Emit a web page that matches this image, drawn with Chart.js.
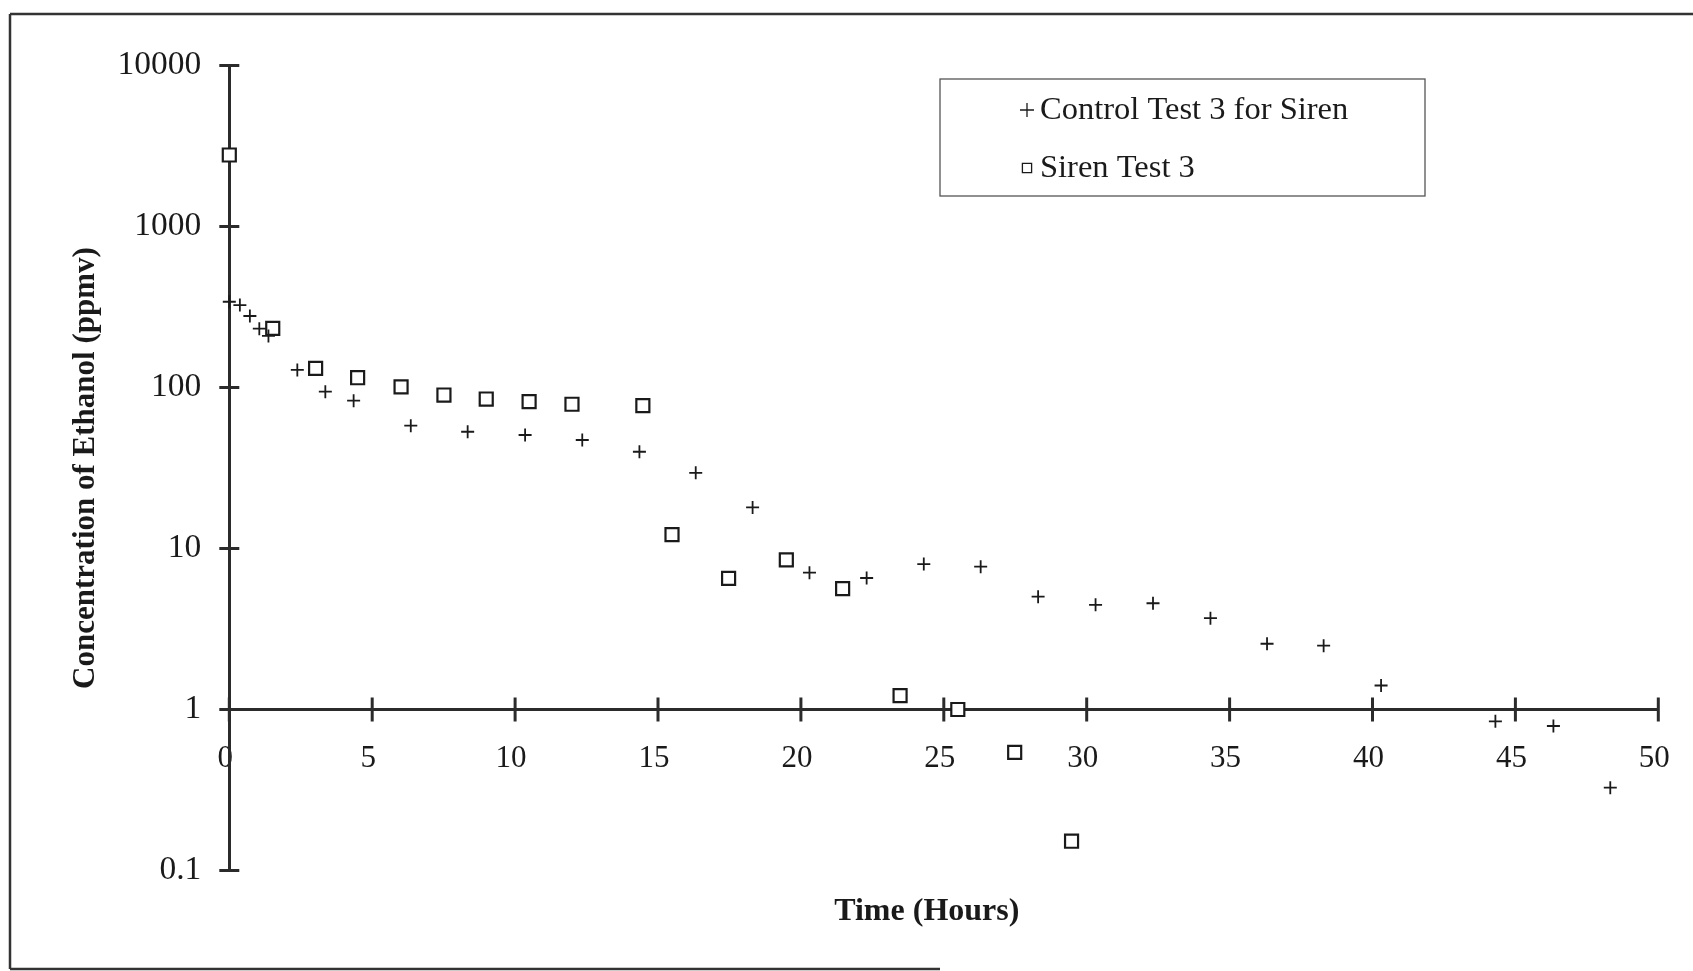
<!DOCTYPE html>
<html>
<head>
<meta charset="utf-8">
<title>Concentration of Ethanol - Siren Test 3</title>
<script src="https://cdn.jsdelivr.net/npm/chart.js@4.4.1/dist/chart.umd.min.js"></script>
<style>
  html, body { margin: 0; padding: 0; background: #fff; }
  #wrap { width: 1693px; height: 971px; }
</style>
</head>
<body>
<div id="wrap"><canvas id="ethanol-chart" width="1693" height="971"></canvas></div>
<script>
// Data (time in hours, ethanol in ppmv)
const controlTimes = [0, 0.37, 0.72, 1.05, 1.37, 2.38, 3.36, 4.35, 6.35, 8.34, 10.35, 12.35, 14.35, 16.32, 18.31, 20.3, 22.3, 24.3, 26.29, 28.3, 30.31, 32.32, 34.33, 36.31, 38.29, 40.3, 44.3, 46.33, 48.32];
const controlConc = [341, 325, 278, 232, 209, 128.5, 94.2, 82.8, 57.9, 53.1, 50.7, 47.2, 39.9, 29.5, 18.0, 7.08, 6.56, 8.0, 7.71, 5.02, 4.47, 4.57, 3.69, 2.56, 2.49, 1.41, 0.845, 0.79, 0.327];

const sirenTimes = [0, 1.52, 3.02, 4.49, 6.01, 7.51, 8.99, 10.49, 11.99, 14.47, 15.49, 17.47, 19.49, 21.46, 23.47, 25.49, 27.48, 29.47];
const sirenConc = [2780, 233, 131.6, 115, 101, 89.8, 84.8, 81.7, 78.7, 77.1, 12.2, 6.53, 8.51, 5.63, 1.22, 1.0, 0.542, 0.152];

const xTicks = [0, 5, 10, 15, 20, 25, 30, 35, 40, 45, 50];
const yTicks = [0.1, 1, 10, 100, 1000, 10000];

const seriesLabels = ["Control Test 3 for Siren", "Siren Test 3"];

const INK = "#1a1a1a";
const AXIS_COLOR = "#2b2b2b";
const SERIF = "'Liberation Serif', 'Times New Roman', serif";

document.addEventListener("DOMContentLoaded", function () {
  createEthanolChart();
});

function toPoints(xs, ys) {
  return xs.map((x, i) => ({ x: x, y: ys[i] }));
}

function strokeLine(ctx, x1, y1, x2, y2) {
  ctx.beginPath();
  ctx.moveTo(x1, y1);
  ctx.lineTo(x2, y2);
  ctx.stroke();
}

// scanned page border
const paperFrame = {
  id: "paperFrame",
  beforeDraw(chart) {
    const ctx = chart.ctx;
    ctx.save();
    ctx.fillStyle = "#fff";
    ctx.fillRect(0, 0, chart.width, chart.height);
    ctx.strokeStyle = "#333";
    ctx.lineWidth = 2.5;
    strokeLine(ctx, 10, 14, chart.width, 14);
    strokeLine(ctx, 10, 14, 10, 969);
    strokeLine(ctx, 10, 969, 940, 969);
    ctx.restore();
  },
};

// the axis title sits a little left of the plot centre in the original
const titleNudge = {
  id: "titleNudge",
  afterLayout(chart) {
    const s = chart.scales.xTitle;
    s.left -= 17;
    s.right -= 17;
  },
};

// tick marks that cross the axis lines
const crossTicks = {
  id: "crossTicks",
  beforeDatasetsDraw(chart) {
    const { ctx, scales } = chart;
    const x = scales.x;
    const y = scales.y;
    const axisY = y.getPixelForValue(1);
    const axisX = x.getPixelForValue(0);
    ctx.save();
    ctx.strokeStyle = AXIS_COLOR;
    ctx.lineWidth = 3;
    x.ticks.forEach((t) => {
      const px = x.getPixelForValue(t.value);
      strokeLine(ctx, px, axisY - 12, px, axisY + 12);
    });
    y.ticks.forEach((t) => {
      const py = y.getPixelForValue(t.value);
      strokeLine(ctx, axisX - 10, py, axisX + 10, py);
    });
    ctx.restore();
  },
};

// boxed legend in the upper right of the plot
const boxedLegend = {
  id: "boxedLegend",
  afterDraw(chart) {
    const ctx = chart.ctx;
    const box = { left: 940, top: 79, right: 1425, bottom: 196 };
    ctx.save();
    ctx.strokeStyle = "#555";
    ctx.lineWidth = 1.3;
    ctx.strokeRect(box.left, box.top, box.right - box.left, box.bottom - box.top);

    ctx.font = "32.5px " + SERIF;
    ctx.textBaseline = "middle";
    ctx.textAlign = "left";
    const rows = [110, 168];
    chart.data.datasets.forEach((ds, i) => {
      ctx.strokeStyle = INK;
      ctx.fillStyle = "#fff";
      Chart.helpers.drawPoint(
        ctx,
        {
          pointStyle: ds.pointStyle,
          radius: ds.pointStyle === "cross" ? 7 : 6.5,
          rotation: 0,
          borderWidth: 1.6,
        },
        1027,
        rows[i]
      );
      ctx.fillStyle = INK;
      ctx.fillText(ds.label, 1040, rows[i]);
    });
    ctx.restore();
  },
};

function createEthanolChart() {
  const ctx = document.getElementById("ethanol-chart");
  if (!ctx) return;

  new Chart(ctx, {
    type: "scatter",
    data: {
      datasets: [
        {
          label: seriesLabels[0],
          data: toPoints(controlTimes, controlConc),
          pointStyle: "cross",
          pointRadius: 6.5,
          pointBorderWidth: 1.8,
          borderColor: INK,
          backgroundColor: INK,
          clip: false,
        },
        {
          label: seriesLabels[1],
          data: toPoints(sirenTimes, sirenConc),
          pointStyle: "rect",
          pointRadius: 9.2,
          pointBorderWidth: 2.2,
          borderColor: INK,
          backgroundColor: "#fff",
          clip: false,
        },
      ],
    },
    options: {
      responsive: false,
      devicePixelRatio: 1,
      animation: false,
      layout: {
        padding: { top: 65.5, right: 34.7, bottom: 40.5, left: 0 },
      },
      plugins: {
        legend: { display: false },
        tooltip: { enabled: false },
      },
      scales: {
        x: {
          type: "linear",
          min: 0,
          max: 50,
          position: { y: 1 },
          afterBuildTicks: (scale) => {
            scale.ticks = xTicks.map((v) => ({ value: v }));
          },
          afterFit: (scale) => {
            scale.height = 0;
            scale.paddingLeft = 0;
            scale.paddingRight = 0;
          },
          ticks: {
            autoSkip: false,
            maxRotation: 0,
            padding: 31,
            labelOffset: -4,
            color: INK,
            font: { family: SERIF, size: 31 },
            callback: function (value) {
              return String(value);
            },
          },
          grid: { display: false, drawTicks: false },
          border: { display: true, color: AXIS_COLOR, width: 3 },
        },
        xTitle: {
          type: "linear",
          axis: "x",
          min: 0,
          max: 50,
          position: "bottom",
          afterFit: (scale) => {
            scale.height = 60;
          },
          ticks: { display: false },
          grid: { display: false, drawTicks: false },
          border: { display: false },
          title: {
            display: true,
            text: "Time (Hours)",
            color: INK,
            font: { family: SERIF, size: 32, weight: "bold" },
            padding: { top: 22.5, bottom: 0 },
          },
        },
        y: {
          type: "logarithmic",
          min: 0.1,
          max: 10000,
          position: "left",
          afterBuildTicks: (scale) => {
            scale.ticks = yTicks.map((v) => ({ value: v }));
          },
          afterFit: (scale) => {
            scale.width = 229.3;
          },
          ticks: {
            padding: 28,
            color: INK,
            font: { family: SERIF, size: 33.5 },
            callback: function (value) {
              return String(value);
            },
          },
          grid: { display: false, drawTicks: false },
          border: { display: true, color: AXIS_COLOR, width: 3 },
          title: {
            display: true,
            text: "Concentration of Ethanol (ppmv)",
            color: INK,
            font: { family: SERIF, size: 31, weight: "bold" },
            padding: { top: 67.4, bottom: 0 },
          },
        },
      },
    },
    plugins: [paperFrame, titleNudge, crossTicks, boxedLegend],
  });
}
</script>
</body>
</html>
